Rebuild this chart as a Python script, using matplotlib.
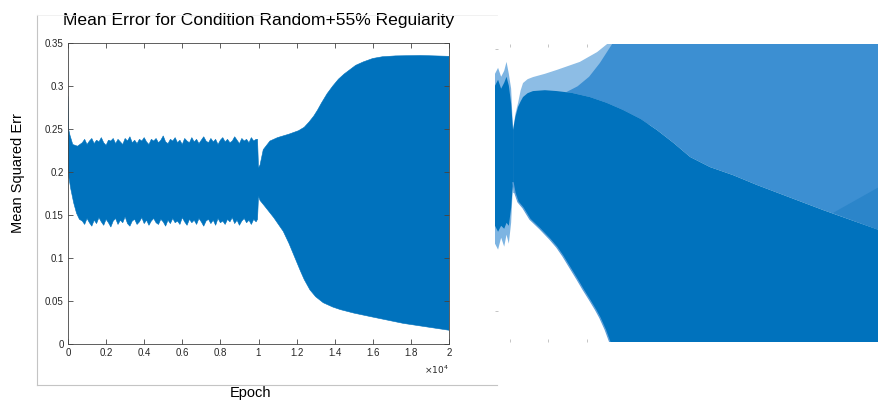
import numpy as np
import matplotlib.pyplot as plt
from matplotlib.lines import Line2D
from matplotlib.ticker import FuncFormatter

plt.rcParams['font.family'] = ['Liberation Sans', 'DejaVu Sans']

# ---- main plot: envelope of the mean squared error trace ----
noise_epochs = list(range(750, 9876, 125))
noise_upper = [0.234, 0.238, 0.232, 0.236, 0.239, 0.233, 0.237, 0.235, 0.240, 0.234,
               0.231, 0.237, 0.236, 0.239, 0.233, 0.238, 0.235, 0.232, 0.239, 0.236,
               0.241, 0.234, 0.237, 0.233, 0.238, 0.236, 0.240, 0.235, 0.232, 0.238,
               0.236, 0.239, 0.234, 0.237, 0.242, 0.235, 0.233, 0.238, 0.236, 0.240,
               0.234, 0.237, 0.232, 0.239, 0.236, 0.234, 0.240, 0.235, 0.238, 0.233,
               0.237, 0.241, 0.236, 0.234, 0.239, 0.235, 0.238, 0.232, 0.237, 0.240,
               0.235, 0.238, 0.234, 0.236, 0.241, 0.237, 0.233, 0.239, 0.236, 0.238,
               0.234, 0.240, 0.236, 0.238]
noise_lower = [0.143, 0.139, 0.146, 0.141, 0.137, 0.144, 0.140, 0.147, 0.142, 0.138,
               0.145, 0.141, 0.136, 0.143, 0.146, 0.139, 0.144, 0.141, 0.148, 0.140,
               0.137, 0.143, 0.145, 0.139, 0.142, 0.147, 0.140, 0.144, 0.138, 0.143,
               0.146, 0.141, 0.139, 0.145, 0.142, 0.137, 0.144, 0.140, 0.146, 0.141,
               0.143, 0.139, 0.147, 0.142, 0.138, 0.145, 0.141, 0.144, 0.139, 0.146,
               0.142, 0.137, 0.143, 0.145, 0.140, 0.144, 0.138, 0.146, 0.141, 0.143,
               0.139, 0.145, 0.142, 0.147, 0.140, 0.144, 0.138, 0.143, 0.146, 0.141,
               0.144, 0.139, 0.145, 0.142]

upper_epochs = ([0, 30, 100, 250, 500] + noise_epochs +
                [9950, 10000, 10080, 10250, 10600, 11000, 11600, 12100, 12400,
                 12650, 12900, 13100, 13300, 13600, 13900, 14200, 14500, 14800,
                 15100, 15500, 16000, 16500, 17200, 18500, 20000])
upper_err = ([0.288, 0.250, 0.243, 0.232, 0.230] + noise_upper +
             [0.238, 0.205, 0.208, 0.226, 0.236, 0.240, 0.244, 0.248, 0.252,
              0.258, 0.265, 0.272, 0.280, 0.291, 0.300, 0.308, 0.314, 0.319,
              0.324, 0.328, 0.332, 0.334, 0.335, 0.3355, 0.3345])

lower_epochs = ([0, 150, 300, 450, 600] + noise_epochs +
                [9950, 10000, 10080, 10300, 10800, 11300, 11600, 11900, 12200,
                 12400, 12700, 13000, 13400, 13900, 14300, 15000, 15850, 17600, 20000])
lower_err = ([0.200, 0.180, 0.164, 0.152, 0.145] + noise_lower +
             [0.145, 0.172, 0.167, 0.161, 0.147, 0.131, 0.117, 0.101, 0.085,
              0.075, 0.063, 0.055, 0.048, 0.043, 0.040, 0.036, 0.032, 0.024, 0.016])

# ---- right panel: magnified view of the same trace (panel units 0..1) ----
band_u = [0.0, 0.008, 0.016, 0.024, 0.030, 0.036, 0.042, 0.047]
band_top_outer = [0.90, 0.92, 0.89, 0.91, 0.94, 0.90, 0.85, 0.711]
band_bot_outer = [0.33, 0.31, 0.35, 0.32, 0.36, 0.33, 0.40, 0.534]
band_top_inner = [0.86, 0.88, 0.85, 0.87, 0.89, 0.86, 0.80, 0.711]
band_bot_inner = [0.39, 0.37, 0.39, 0.38, 0.40, 0.39, 0.45, 0.534]

dark_top_u = [0.047, 0.053, 0.060, 0.067, 0.073, 0.085, 0.099, 0.130, 0.161, 0.200,
              0.247, 0.290, 0.333, 0.380, 0.422, 0.465, 0.508, 0.560, 0.620,
              0.682, 0.770, 0.854, 0.930, 1.0]
dark_top_v = [0.711, 0.755, 0.789, 0.808, 0.822, 0.835, 0.842, 0.845, 0.842, 0.836,
              0.822, 0.803, 0.779, 0.748, 0.711, 0.668, 0.621, 0.587, 0.560,
              0.527, 0.484, 0.443, 0.408, 0.376]
dark_bot_u = [0.047, 0.052, 0.060, 0.073, 0.091, 0.117, 0.143, 0.161, 0.177, 0.195,
              0.214, 0.230, 0.247, 0.262, 0.273, 0.287, 0.299]
dark_bot_v = [0.534, 0.500, 0.470, 0.450, 0.412, 0.380, 0.345, 0.318, 0.288, 0.250,
              0.210, 0.175, 0.140, 0.108, 0.082, 0.042, 0.0]

outer_u = [0.047, 0.053, 0.060, 0.067, 0.073, 0.085, 0.099, 0.130, 0.161, 0.221,
           0.266, 0.292]
outer_v = [0.711, 0.765, 0.802, 0.845, 0.869, 0.882, 0.889, 0.900, 0.913, 0.940,
           0.973, 1.0]

mid_edge_u = [0.185, 0.215, 0.245, 0.273, 0.305]
mid_edge_v = [0.838, 0.858, 0.890, 0.936, 1.0]

wedge_u = [0.880, 1.0, 1.0]
wedge_v = [0.433, 0.520, 0.376]

blue = '#0072BD'
mid_blue = '#3C8FD2'
light_blue = '#8DBDE5'

fig = plt.figure(figsize=(8.79, 4.0), dpi=100)

# light frame around the left figure
fig.add_artist(Line2D([37 / 879, 37 / 879], [385 / 400, 15 / 400], color='#c4c4c4', lw=0.8))
fig.add_artist(Line2D([37 / 879, 497 / 879], [15 / 400, 15 / 400], color='#c4c4c4', lw=0.8))
fig.add_artist(Line2D([37 / 879, 497 / 879], [385 / 400, 385 / 400], color='#efefef', lw=0.6))

ax = fig.add_axes([68 / 879, 56 / 400, 381 / 879, 301 / 400])
ax.fill(np.concatenate([upper_epochs, lower_epochs[::-1]]),
        np.concatenate([upper_err, lower_err[::-1]]),
        color=blue, lw=0.4, ec=blue)
ax.set_xlim(0, 20000)
ax.set_ylim(0, 0.35)
ax.set_xticks(np.arange(0, 20001, 2000))
ax.set_yticks(np.arange(0, 0.351, 0.05))
ax.xaxis.set_major_formatter(FuncFormatter(lambda v, p: '%g' % round(v / 1e4, 2)))
ax.yaxis.set_major_formatter(FuncFormatter(lambda v, p: '%g' % round(v, 2)))
ax.tick_params(direction='in', length=3.5, width=0.6, color='#444444',
               labelsize=7, labelcolor='#262626', top=True, right=True, pad=3)
for s in ax.spines.values():
    s.set_color('#444444')
    s.set_linewidth(0.6)
ax.text(1.0, -0.065, r'$\times10^{4}$', transform=ax.transAxes, ha='right', va='top',
        fontsize=6.5, color='#262626')
ax.set_title('Mean Error for Condition Random+55% Regularity', fontsize=12.6, pad=13)
ax.set_xlabel('Epoch', fontsize=10.5)
ax.xaxis.set_label_coords(0.478, -0.14)
ax.set_ylabel('Mean Squared Err', fontsize=10.5)
ax.yaxis.set_label_coords(-0.113, 0.568)

# magnified panel
ax2 = fig.add_axes([495 / 879, 58 / 400, 384 / 879, 298 / 400])
ax2.set_xlim(0, 1)
ax2.set_ylim(0, 1)
for s in ax2.spines.values():
    s.set_visible(False)
ax2.fill(outer_u + [0.40, 0.40, 0.047], outer_v + [1.0, 0.5, 0.5], color=light_blue, lw=0)
mid_u = mid_edge_u + [1.0] + [u for u in dark_top_u[::-1] if u >= 0.185]
mid_v = mid_edge_v + [1.0] + [v for u, v in zip(dark_top_u[::-1], dark_top_v[::-1]) if u >= 0.185]
ax2.fill(mid_u, mid_v, color=mid_blue, lw=0)
ax2.fill(wedge_u, wedge_v, color='#2B85CA', lw=0)
ax2.fill(dark_top_u + [1.0] + dark_bot_u[::-1], dark_top_v + [0.0] + dark_bot_v[::-1],
         color=blue, lw=0)
ax2.plot(dark_bot_u, dark_bot_v, color='#5E9FD8', lw=1.0)
ax2.fill(band_u + band_u[::-1], band_top_outer + band_bot_outer[::-1], color='#7DB4E2', lw=0)
ax2.fill(band_u + band_u[::-1], band_top_inner + band_bot_inner[::-1], color=blue, lw=0)
ax2.set_xticks([0.039, 0.138, 0.240])
ax2.set_yticks([0.983, 0.104])
ax2.tick_params(direction='in', length=2, width=0.6, color='#bbbbbb', top=True,
                labelbottom=False, labelleft=False)

fig.savefig('out.png', dpi=100)
